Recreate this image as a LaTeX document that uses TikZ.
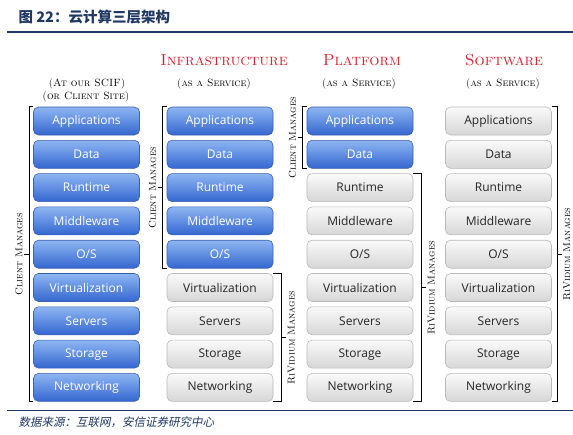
\documentclass[tikz,border=0pt]{standalone}
\usepackage{fontspec}
\usepackage{xcolor}
\usepackage{tikz}
\usetikzlibrary{positioning,calc}

\newfontfamily\boxfont{Open Sans}
\newfontfamily\cjk{Noto Sans CJK SC}
\newfontfamily\cjkslant[FakeSlant=0.2]{Noto Sans CJK SC}

\definecolor{navy}{RGB}{31,56,100}
\definecolor{headred}{RGB}{208,36,46}
\definecolor{bluetop}{RGB}{142,182,242}
\definecolor{bluebot}{RGB}{52,102,208}
\definecolor{blueedge}{RGB}{58,96,176}

\begin{document}
\begin{tikzpicture}[x=1pt, y=-1pt,
  tier/.style={rectangle, rounded corners=5pt, minimum width=106pt, minimum height=28pt, font=\boxfont\fontsize{12}{14}\selectfont, line width=0.6pt},
  blue box/.style={tier, top color=bluetop, bottom color=bluebot, draw=blueedge, text=white},
  grey box/.style={tier, top color=gray!4, bottom color=gray!32, draw=gray!55, text=black!85},
  head/.style={font=\fontsize{16}{18}\selectfont\scshape, text=headred},
  sub/.style={font=\fontsize{10.5}{12}\selectfont\scshape},
  side/.style={font=\fontsize{10}{12}\selectfont\scshape, rotate=90, inner sep=1pt},
  brk/.style={line width=1.2pt},
  node distance=4.7pt
]
\useasboundingbox (0,0) rectangle (573,434);

% title and rules
\node[anchor=west, text=navy, font=\cjk\bfseries\fontsize{14.5}{16}\selectfont] (title) at (15,17) {图 22：云计算三层架构};
\draw[navy, line width=2.5pt] (7,32) -- (573,32);
\draw[navy, line width=1pt] (7,410) -- (573,410);
\node[anchor=west, text=navy, font=\cjkslant\fontsize{11.5}{13}\selectfont] (source) at (15,422) {数据来源：互联网，安信证券研究中心};

% column heads
\node[sub] (onsite) at (87,84) {(At our SCIF)};
\node[sub] (onsite2) at (86,97) {(or Client Site)};
\node[head] (iaas) at (224,60) {Infrastructure};
\node[sub] (iaas-s) at (214,84) {(as a Service)};
\node[head] (paas) at (362,60) {Platform};
\node[sub] (paas-s) at (359,84) {(as a Service)};
\node[head] (saas) at (504,60) {Software};
\node[sub] (saas-s) at (503,84) {(as a Service)};

% stacks
\foreach \col/\cx/\nblue in {1/86.5/9, 2/220/5, 3/360/2, 4/498.5/0}{
  \foreach \lab [count=\i] in {Applications,Data,Runtime,Middleware,O/S,Virtualization,Servers,Storage,Networking}{
    \ifnum\i>\nblue \tikzset{shade sel/.style={grey box}}\else \tikzset{shade sel/.style={blue box}}\fi
    \ifnum\i=1
      \node[shade sel] (c\col-1) at (\cx,121) {\lab};
    \else
      \pgfmathtruncatemacro\prev{\i-1}
      \node[shade sel, below=of c\col-\prev] (c\col-\i) {\lab};
    \fi
  }
}

% brackets
\draw[brk] (c1-1.north west) -- ++(-4,0) |- (c1-9.south west);
\draw[brk] ($(c1-1.north west)!0.5!(c1-9.south west)$) ++(-4,0) -- ++(-5,0) node[side, anchor=south] (cm1) {Client Manages};

\draw[brk] (c2-1.north west) -- ++(-4,0) |- (c2-5.south west);
\draw[brk] ($(c2-1.north west)!0.5!(c2-5.south west)$) ++(-4,0) -- ++(-5,0) node[side, anchor=south] (cm2) {Client Manages};
\draw[brk] (c2-6.north east) -- ++(8,0) |- (c2-9.south east);
\draw[brk] ($(c2-6.north east)!0.5!(c2-9.south east)$) ++(8,0) -- ++(5,0) node[side, anchor=north] (rm2) {RiVidium Manages};

\draw[brk] (c3-1.north west) -- ++(-4,0) |- (c3-2.south west);
\draw[brk] ($(c3-1.north west)!0.5!(c3-2.south west)$) ++(-4,0) -- ++(-5,0) node[side, anchor=south] (cm3) {Client Manages};
\draw[brk] (c3-3.north east) -- ++(8,0) |- (c3-9.south east);
\draw[brk] ($(c3-3.north east)!0.5!(c3-9.south east)$) ++(8,0) -- ++(5,0) node[side, anchor=north] (rm3) {RiVidium Manages};

\draw[brk] (c4-1.north east) -- ++(6,0) |- (c4-9.south east);
\draw[brk] ($(c4-1.north east)!0.5!(c4-9.south east)$) ++(6,0) -- ++(4,0) node[side, anchor=north] (rm4) {RiVidium Manages};
\end{tikzpicture}
\end{document}
